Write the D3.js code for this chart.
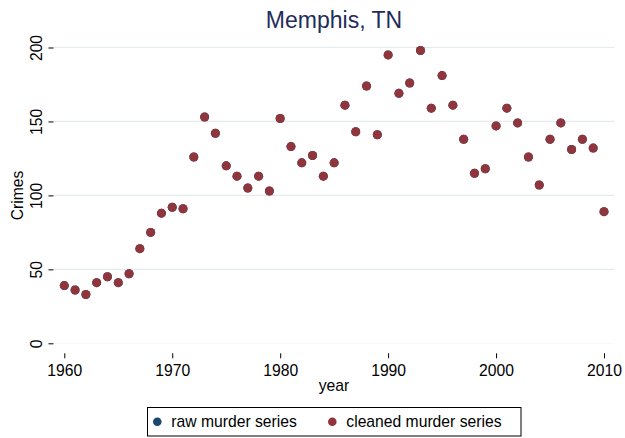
<!DOCTYPE html>
<html>
<head>
<meta charset="utf-8">
<script src="https://cdn.jsdelivr.net/npm/d3@7"></script>
<style>
  html, body { margin: 0; padding: 0; background: #fff; }
  svg { display: block; font-family: "Liberation Sans", Arial, sans-serif; }
</style>
</head>
<body>
<svg id="chart" width="625" height="438"></svg>
<script>
const years = d3.range(1960, 2011);
const rawMurders = [39, 36, 33, 41, 45, 41, 47, 64, 75, 88,
                    92, 91, 126, 153, 142, 120, 113, 105, 113, 103,
                    152, 133, 122, 127, 113, 122, 161, 143, 174, 141,
                    195, 169, 176, 198, 159, 181, 161, 138, 115, 118,
                    147, 159, 149, 126, 107, 138, 149, 131, 138, 132,
                    89];
const cleanedMurders = [39, 36, 33, 41, 45, 41, 47, 64, 75, 88,
                        92, 91, 126, 153, 142, 120, 113, 105, 113, 103,
                        152, 133, 122, 127, 113, 122, 161, 143, 174, 141,
                        195, 169, 176, 198, 159, 181, 161, 138, 115, 118,
                        147, 159, 149, 126, 107, 138, 149, 131, 138, 132,
                        89];
const xTicks = [1960, 1970, 1980, 1990, 2000, 2010];
const yTicks = [0, 50, 100, 150, 200];
const seriesNames = ["raw murder series", "cleaned murder series"];
const seriesColors = ["rgb(26,71,111)", "rgb(144,53,59)"];
const titleText = "Memphis, TN";
const xTitle = "year";
const yTitle = "Crimes";

const svg = d3.select("#chart");
const plotLeft = 53.5, plotRight = 614.5;

const x = d3.scaleLinear().domain([1960, 2010]).range([64.3, 604]);
const y = d3.scaleLinear().domain([0, 200]).range([343.3, 47.5]);

// gridlines
svg.append("g").selectAll("line").data(yTicks.filter(d => d > 0)).join("line")
  .attr("x1", plotLeft).attr("x2", plotRight)
  .attr("y1", d => y(d)).attr("y2", d => y(d))
  .attr("stroke", "#e3ebee").attr("stroke-width", 1.2);
svg.append("line").attr("x1", plotLeft).attr("x2", plotRight)
  .attr("y1", y(0)).attr("y2", y(0)).attr("stroke", "#f4f7f8");

// y axis (ticks only, no domain line)
const yAxis = svg.append("g").attr("transform", `translate(${plotLeft},0)`)
  .call(d3.axisLeft(y).tickValues(yTicks).tickSize(5).tickPadding(0).tickFormat(d3.format("d")));
yAxis.select(".domain").remove();
yAxis.selectAll(".tick line").attr("stroke", "#000").attr("stroke-width", 1);
yAxis.selectAll(".tick text")
  .attr("x", null).attr("dy", null)
  .attr("transform", "translate(-11.5,0) rotate(-90)")
  .attr("text-anchor", "middle")
  .attr("fill", "#000")
  .style("font-size", "15.7px");

// x axis (ticks only)
const xAxis = svg.append("g").attr("transform", "translate(0,353.3)")
  .call(d3.axisBottom(x).tickValues(xTicks).tickSize(5).tickPadding(0).tickFormat(d3.format("d")));
xAxis.select(".domain").remove();
xAxis.selectAll(".tick line").attr("stroke", "#000").attr("stroke-width", 1);
xAxis.selectAll(".tick text")
  .attr("y", 22.3).attr("dy", null)
  .attr("fill", "#000")
  .style("font-size", "15.7px");

// axis titles
svg.append("text").attr("x", (plotLeft + plotRight) / 2).attr("y", 390.5)
  .attr("text-anchor", "middle").style("font-size", "15.7px").text(xTitle);
svg.append("text").attr("transform", `translate(23,${(y(0) + y(200)) / 2}) rotate(-90)`)
  .attr("text-anchor", "middle").style("font-size", "15.7px").text(yTitle);

// title
svg.append("text").attr("x", (plotLeft + plotRight) / 2).attr("y", 28)
  .attr("text-anchor", "middle").attr("fill", "rgb(30,45,90)")
  .style("font-size", "23px").text(titleText);

// series
const allSeries = [rawMurders, cleanedMurders];
allSeries.forEach((vals, i) => {
  svg.append("g").selectAll("circle").data(years.map((yr, j) => ({yr, v: vals[j]}))).join("circle")
    .attr("cx", d => x(d.yr)).attr("cy", d => y(d.v)).attr("r", 4.5)
    .attr("fill", seriesColors[i]);
});

// legend
const lg = svg.append("g");
lg.append("rect").attr("x", 147.5).attr("y", 407.5).attr("width", 373.5).attr("height", 28.5)
  .attr("fill", "#fff").attr("stroke", "#000").attr("stroke-width", 1);
const legendX = [157.3, 332.3];
seriesNames.forEach((name, i) => {
  lg.append("circle").attr("cx", legendX[i]).attr("cy", 421.7).attr("r", 4.3).attr("fill", seriesColors[i]);
  lg.append("text").attr("x", legendX[i] + 14).attr("y", 427.3)
    .style("font-size", "15.7px").text(name);
});
</script>
</body>
</html>
